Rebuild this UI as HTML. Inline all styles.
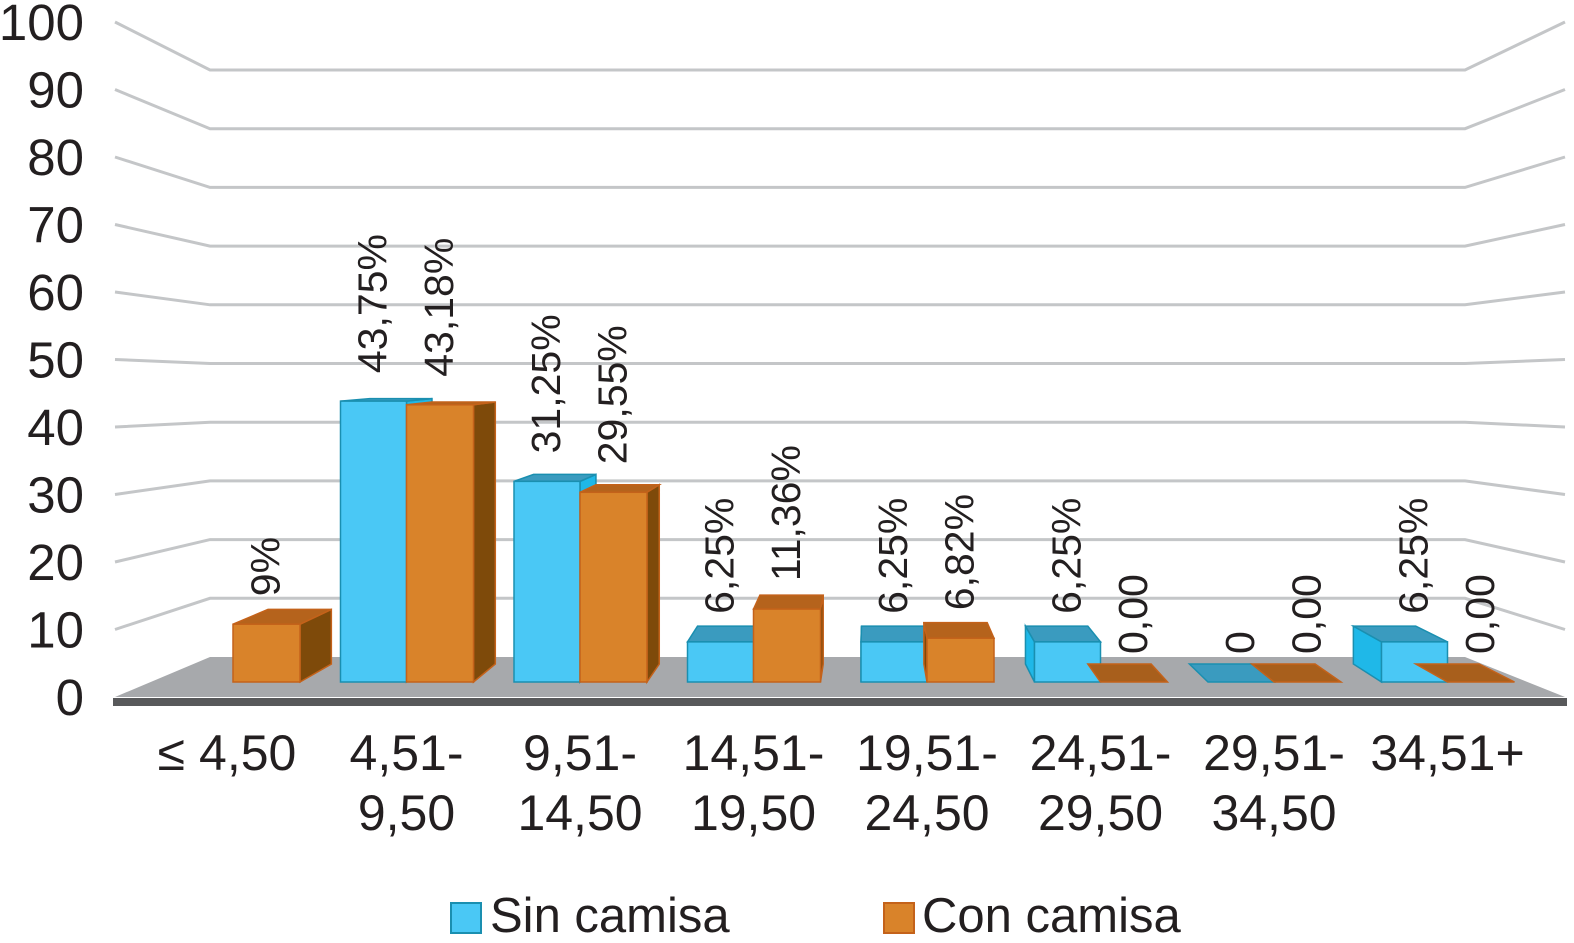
<!DOCTYPE html>
<html><head><meta charset="utf-8"><style>
html,body{margin:0;padding:0;background:#fff;}
svg text{font-family:"Liberation Sans",Arial,sans-serif;fill:#231f20;}
</style></head><body>
<svg id="chart" width="1574" height="938" viewBox="0 0 1574 938" xmlns="http://www.w3.org/2000/svg">
<g id="grid"></g>
<g id="yticks"></g>
<polygon points="115,697 210,657 1465,657 1565,697" fill="#a7a9ac"/>
<rect x="113" y="698" width="1454" height="8" fill="#58595b"/>
<g id="bars"></g>
<g id="xlabels"></g>
<g>
  <g>
    <rect x="451" y="903" width="30" height="30" fill="#4ac8f5" stroke="#1a8fb0" stroke-width="2"/>
    <text x="490" y="932" font-size="49">Sin camisa</text>
  </g>
  <g>
    <rect x="884" y="903" width="30" height="30" fill="#d9832a" stroke="#c4621a" stroke-width="2"/>
    <text x="922" y="932" font-size="49">Con camisa</text>
  </g>
</g>
</svg>
<script>
const categories=[["≤ 4,50"],["4,51-","9,50"],["9,51-","14,50"],["14,51-","19,50"],["19,51-","24,50"],["24,51-","29,50"],["29,51-","34,50"],["34,51+"]];
const sinValues=[0,43.75,31.25,6.25,6.25,6.25,0,6.25];
const conValues=[9,43.18,29.55,11.36,6.82,0,0,0];
const sinLabels=["","43,75%","31,25%","6,25%","6,25%","6,25%","0","6,25%"];
const conLabels=["9%","43,18%","29,55%","11,36%","6,82%","0,00","0,00","0,00"];
const yTicks=[0,10,20,30,40,50,60,70,80,90,100];
const NS="http://www.w3.org/2000/svg";
function mk(tag,attrs,parent){const e=document.createElementNS(NS,tag);for(const k in attrs)e.setAttribute(k,attrs[k]);parent.appendChild(e);return e;}
const base=682, pxPer=6.42, vx=870, vy=355, kx=0.055;
function yv(v){return base-v*pxPer;}
function xg(i){return 167+i*173.5;}
function frontYTick(v){return 697-v*6.75;}
function backYTick(v){return 657-v*5.87;}
const grid=document.getElementById('grid'),yt=document.getElementById('yticks');
yTicks.forEach(v=>{
  if(v>0){
    const g=mk('polyline',{points:`115,${frontYTick(v)} 210,${backYTick(v)} 1465,${backYTick(v)} 1565,${frontYTick(v)}`,fill:'none',stroke:'#c4c6c8','stroke-width':3},grid);
    
    
  }
  const t=mk('text',{x:84,y:frontYTick(v)+18,'font-size':51,'text-anchor':'end'},yt);
  t.textContent=v;
  
  
});
const bars=document.getElementById('bars');
function bar(x,w,v,front,top,side,stroke,name,label){
  const yT=yv(v), h=base-yT;
  const g=mk('g',{},bars);
  
  
  const bx=p=>p+(vx-p)*kx;
  const by=p=>p+(vy-p)*kx;
  const sx=(x+w<vx)?x+w:x;
  if(h>0) mk('polygon',{points:`${sx},${base} ${sx},${yT} ${bx(sx)},${by(yT)} ${bx(sx)},${by(base)}`,fill:side,stroke:stroke,'stroke-width':1.5},g);
  mk('polygon',{points:`${x},${yT} ${x+w},${yT} ${bx(x+w)},${by(yT)} ${bx(x)},${by(yT)}`,fill:top,stroke:stroke,'stroke-width':1.5},g);
  if(h>0) mk('rect',{x:x,y:yT,width:w,height:h,fill:front,stroke:stroke,'stroke-width':1.5},g);
  if(label){
    const cx=x+w/2+13, ly=yT-28;
    const t=mk('text',{x:0,y:0,'font-size':41,transform:`translate(${cx},${ly}) rotate(-90)`},bars);
    t.textContent=label;
    
    
  }
}
const W=66;
categories.forEach((c,i)=>{
  const x=xg(i);
  if(i>0) bar(x,W,sinValues[i],'#4ac8f5','#3a9bbf','#1fb8e8','#1a8fb0','bar-sin-'+i,sinLabels[i]);
  bar(x+W,W+1,conValues[i],'#d9832a',conValues[i]>0?'#b5631c':'#a85f1c','#7e4a0a','#c4621a','bar-con-'+i,conLabels[i]);
  const xl=document.getElementById('xlabels');
  c.forEach((line,j)=>{
    const t=mk('text',{x:x+W+(i==0?-6:0),y:770+j*60,'font-size':50,'text-anchor':'middle'},xl);
    t.textContent=line;
    
    
  });
});
</script>
</body></html>
